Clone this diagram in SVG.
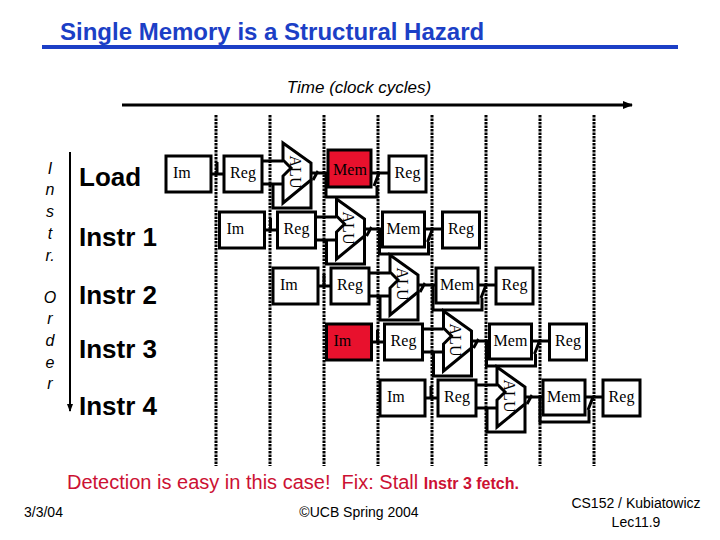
<svg xmlns="http://www.w3.org/2000/svg" width="720" height="540" viewBox="0 0 720 540">
<defs>
<style>
.box{fill:#fff;stroke:#000;stroke-width:3}
.red{fill:#e8112d}
.lbl{font-family:"Liberation Serif","Times New Roman",serif;font-size:16px;fill:#000}
.mid{text-anchor:middle}
.c{fill:none;stroke:#000;stroke-width:3}
.dot{stroke:#000;stroke-width:3;stroke-dasharray:2.5 1}
.sans{font-family:"Liberation Sans",Arial,sans-serif}
.ord{font-family:"Liberation Sans",Arial,sans-serif;font-style:italic;font-size:16px;text-anchor:middle}
.ins{font-family:"Liberation Sans",Arial,sans-serif;font-weight:bold;font-size:26px}
</style>
<marker id="ah" markerUnits="userSpaceOnUse" markerWidth="10" markerHeight="8" refX="9" refY="4" orient="auto">
<path d="M0 0 L10 4 L0 8 Z" fill="#000"/>
</marker>
<marker id="ah2" markerUnits="userSpaceOnUse" markerWidth="8" markerHeight="8" refX="7" refY="4" orient="auto">
<path d="M0 1 L8 4 L0 7 Z" fill="#000"/>
</marker>
</defs>
<rect width="720" height="540" fill="#fff"/>

<g id="title">
<text x="60" y="40" class="sans" font-weight="bold" font-size="24" fill="#1c3fc6">Single Memory is a Structural Hazard</text>
<rect x="42" y="45" width="636" height="4" fill="#1c3fc6"/>
</g>

<g id="time-axis">
<text x="359" y="93" class="sans" font-style="italic" font-size="17" text-anchor="middle">Time (clock cycles)</text>
<line x1="122" y1="105" x2="632" y2="105" stroke="#000" stroke-width="3" marker-end="url(#ah)"/>
</g>

<g id="order-axis">
<text class="ord" x="50" y="174">I</text>
<text class="ord" x="50" y="195">n</text>
<text class="ord" x="50" y="217">s</text>
<text class="ord" x="50" y="239">t</text>
<text class="ord" x="50" y="261">r.</text>
<text class="ord" x="50" y="303">O</text>
<text class="ord" x="50" y="324">r</text>
<text class="ord" x="50" y="346">d</text>
<text class="ord" x="50" y="368">e</text>
<text class="ord" x="50" y="389">r</text>
<line x1="70" y1="152" x2="70" y2="411" stroke="#000" stroke-width="2" marker-end="url(#ah2)"/>
</g>

<g id="instr-labels">
<text class="ins" x="79" y="186" font-size="27">Load</text>
<text class="ins" x="79" y="246">Instr 1</text>
<text class="ins" x="79" y="304">Instr 2</text>
<text class="ins" x="79" y="358">Instr 3</text>
<text class="ins" x="79" y="415">Instr 4</text>
</g>

<g id="cycle-lines">
<line class="dot" x1="216" y1="115" x2="216" y2="466"/>
<line class="dot" x1="270" y1="115" x2="270" y2="466"/>
<line class="dot" x1="324" y1="115" x2="324" y2="466"/>
<line class="dot" x1="378" y1="115" x2="378" y2="466"/>
<line class="dot" x1="432" y1="115" x2="432" y2="466"/>
<line class="dot" x1="486" y1="115" x2="486" y2="466"/>
<line class="dot" x1="540" y1="115" x2="540" y2="466"/>
<line class="dot" x1="594" y1="115" x2="594" y2="466"/>
</g>

<g id="connectors">
<g transform="translate(166,156)">
<path class="c" d="M45 18 H58 M51 6 V19 M96 5 H117 M96 28 H117 M107 28 V52 H145 V24 M145 17 H163 M147 24 L152 15 M160 17 V41 H211 V30 M208 30 L213 17 M205 17 H223"/>
</g>
<g transform="translate(219.5,212)">
<path class="c" d="M45 18 H58 M51 6 V19 M96 5 H117 M96 28 H117 M107 28 V52 H145 V24 M145 17 H163 M147 24 L152 15 M160 17 V42 H209 V30 M208 30 L213 17 M205 17 H223"/>
</g>
<g transform="translate(273,268)">
<path class="c" d="M45 18 H58 M51 6 V19 M96 5 H117 M96 28 H117 M107 28 V52 H145 V24 M145 17 H163 M147 24 L152 15 M160 17 V42 H209 V30 M208 30 L213 17 M205 17 H223"/>
</g>
<g transform="translate(326.5,324)">
<path class="c" d="M45 18 H58 M51 6 V19 M96 5 H117 M96 28 H117 M107 28 V52 H145 V24 M145 17 H163 M147 24 L152 15 M160 17 V42 H209 V30 M208 30 L213 17 M205 17 H223"/>
</g>
<g transform="translate(380,380)">
<path class="c" d="M45 18 H58 M51 6 V19 M96 5 H117 M96 28 H117 M107 28 V52 H145 V24 M145 17 H163 M147 24 L152 15 M160 17 V42 H209 V30 M208 30 L213 17 M205 17 H223"/>
</g>
</g>

<g id="row-load" transform="translate(166,156)">
<g id="load-im"><rect class="box" x="0" y="0" width="45" height="36"/><text class="lbl" x="7" y="22">Im</text></g>
<g id="load-reg"><rect class="box" x="58" y="0" width="38" height="36"/><text class="lbl mid" x="77" y="22">Reg</text></g>
<g id="load-alu"><polygon class="box" points="117,-13 145,7 145,24 117,47 117,20 125,12 117,4"/><text class="lbl mid" transform="translate(129,16) rotate(90)" dominant-baseline="central">ALU</text></g>
<g id="load-mem"><rect class="box red" x="162" y="-6" width="43" height="37"/><text class="lbl mid" x="184" y="19">Mem</text></g>
<g id="load-wb"><rect class="box" x="223" y="0" width="37" height="36"/><text class="lbl mid" x="241.5" y="22">Reg</text></g>
</g>

<g id="row-i1" transform="translate(219.5,212)">
<g id="i1-im"><rect class="box" x="0" y="0" width="45" height="36"/><text class="lbl" x="7" y="22">Im</text></g>
<g id="i1-reg"><rect class="box" x="58" y="0" width="38" height="36"/><text class="lbl mid" x="77" y="22">Reg</text></g>
<g id="i1-alu"><polygon class="box" points="117,-13 145,7 145,24 117,47 117,20 125,12 117,4"/><text class="lbl mid" transform="translate(129,16) rotate(90)" dominant-baseline="central">ALU</text></g>
<g id="i1-mem"><rect class="box" x="163" y="0" width="42" height="35"/><text class="lbl mid" x="184" y="22">Mem</text></g>
<g id="i1-wb"><rect class="box" x="223" y="0" width="37" height="36"/><text class="lbl mid" x="241.5" y="22">Reg</text></g>
</g>

<g id="row-i2" transform="translate(273,268)">
<g id="i2-im"><rect class="box" x="0" y="0" width="45" height="36"/><text class="lbl" x="7" y="22">Im</text></g>
<g id="i2-reg"><rect class="box" x="58" y="0" width="38" height="36"/><text class="lbl mid" x="77" y="22">Reg</text></g>
<g id="i2-alu"><polygon class="box" points="117,-13 145,7 145,24 117,47 117,20 125,12 117,4"/><text class="lbl mid" transform="translate(129,16) rotate(90)" dominant-baseline="central">ALU</text></g>
<g id="i2-mem"><rect class="box" x="163" y="0" width="42" height="35"/><text class="lbl mid" x="184" y="22">Mem</text></g>
<g id="i2-wb"><rect class="box" x="223" y="0" width="37" height="36"/><text class="lbl mid" x="241.5" y="22">Reg</text></g>
</g>

<g id="row-i3" transform="translate(326.5,324)">
<g id="i3-im"><rect class="box red" x="0" y="0" width="45" height="36"/><text class="lbl" x="7" y="22">Im</text></g>
<g id="i3-reg"><rect class="box" x="58" y="0" width="38" height="36"/><text class="lbl mid" x="77" y="22">Reg</text></g>
<g id="i3-alu"><polygon class="box" points="117,-13 145,7 145,24 117,47 117,20 125,12 117,4"/><text class="lbl mid" transform="translate(129,16) rotate(90)" dominant-baseline="central">ALU</text></g>
<g id="i3-mem"><rect class="box" x="163" y="0" width="42" height="35"/><text class="lbl mid" x="184" y="22">Mem</text></g>
<g id="i3-wb"><rect class="box" x="223" y="0" width="37" height="36"/><text class="lbl mid" x="241.5" y="22">Reg</text></g>
</g>

<g id="row-i4" transform="translate(380,380)">
<g id="i4-im"><rect class="box" x="0" y="0" width="45" height="36"/><text class="lbl" x="7" y="22">Im</text></g>
<g id="i4-reg"><rect class="box" x="58" y="0" width="38" height="36"/><text class="lbl mid" x="77" y="22">Reg</text></g>
<g id="i4-alu"><polygon class="box" points="117,-13 145,7 145,24 117,47 117,20 125,12 117,4"/><text class="lbl mid" transform="translate(129,16) rotate(90)" dominant-baseline="central">ALU</text></g>
<g id="i4-mem"><rect class="box" x="163" y="0" width="42" height="35"/><text class="lbl mid" x="184" y="22">Mem</text></g>
<g id="i4-wb"><rect class="box" x="223" y="0" width="37" height="36"/><text class="lbl mid" x="241.5" y="22">Reg</text></g>
</g>

<g id="note">
<text x="67" y="489" class="sans" font-size="20" fill="#cc1133">Detection is easy in this case!&#160; Fix: Stall <tspan font-size="16" font-weight="bold">Instr 3 fetch.</tspan></text>
</g>

<g id="footer" class="sans" font-size="14">
<text x="24" y="517">3/3/04</text>
<text x="359" y="517" text-anchor="middle">©UCB Spring 2004</text>
<text x="636" y="508" text-anchor="middle">CS152 / Kubiatowicz</text>
<text x="636" y="527" text-anchor="middle">Lec11.9</text>
</g>
</svg>
